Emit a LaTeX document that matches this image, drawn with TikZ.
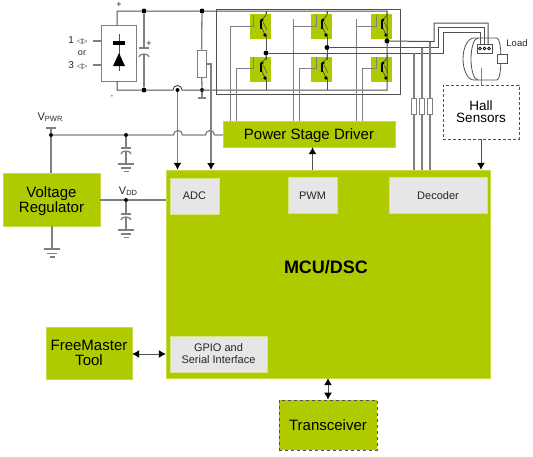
\documentclass[tikz,border=0pt]{standalone}
\usepackage{fontspec}
\setmainfont{Liberation Sans}
\newfontfamily\symfont{DejaVu Sans}
\usetikzlibrary{arrows.meta}
\definecolor{mcugreen}{HTML}{B0CA00}
\definecolor{blockgray}{HTML}{E6E6E6}
\definecolor{wiregray}{HTML}{808080}
\definecolor{darkwire}{HTML}{505050}
\newcommand{\fs}[1]{\fontsize{#1}{#1}\selectfont}
\tikzset{
  wire/.style={draw=wiregray,line width=1.3pt},
  rail/.style={draw=darkwire,line width=1pt},
  sig/.style={draw=darkwire,line width=1pt,-{Latex[length=7pt,width=8pt,black]}},
  bisig/.style={draw=darkwire,line width=1pt,{Latex[length=7pt,width=8pt,black]}-{Latex[length=7pt,width=8pt,black]}},
  greenbox/.style={fill=mcugreen,draw=mcugreen!70!white,line width=0.4pt,inner sep=0pt,align=center,text=black,font=\fs{15},text depth=0pt},
  graybox/.style={fill=blockgray,draw=mcugreen!50!white,line width=0.4pt,inner sep=0pt,align=center,text=black!85,font=\fs{11}},
  dot/.style={circle,fill=black,inner sep=0pt,minimum size=5pt},
  part/.style={draw=darkwire,line width=0.8pt,fill=white,inner sep=0pt,minimum width=#1},
  label/.style={inner sep=0pt,text=black!85,align=center}
}
% capacitor with ground below: x, y of the plate
\newcommand{\capgnd}[2]{
  \draw[wire] (#1-5,#2) -- (#1+5,#2);
  \draw[wire] (#1-5,#2+6) arc (180:360:5 and 3);
  \draw[wire] (#1,#2+3) -- (#1,#2+16);
  \draw[wire] (#1-8,#2+16) -- (#1+8,#2+16);
  \draw[wire] (#1-5,#2+20) -- (#1+5,#2+20);
  \draw[wire] (#1-2.5,#2+23.5) -- (#1+2.5,#2+23.5);
}
% switch symbol: x of the leg, y of the top of the square
\newcommand{\igbt}[3]{
  \node[fill=mcugreen,inner sep=0pt,minimum width=21pt,minimum height=25pt] (#1) at (#2-5.5,#3+12.5) {};
  \draw[darkwire,line width=0.8pt] (#2,#3-3) -- (#2,#3+1) -- (#2-5,#3+7);
  \draw[darkwire,line width=0.8pt] (#2-5,#3+12) -- (#2-1,#3+21);
  \draw[darkwire,line width=0.5pt] (#2-3,#3+8) -- (#2+1,#3+16);
  \draw[black,line width=1.6pt] (#2-5,#3+6) -- (#2-5,#3+15);
  \fill[black] (#2-1,#3+21) circle (1.8pt);
  \fill[black] (#2-4,#3+6) circle (1.6pt);
}
\begin{document}
\begin{tikzpicture}[x=1pt,y=-1pt]
  \useasboundingbox (0,0) rectangle (533,456);

  % switches
  \foreach \n/\x in {a/266,b/327,c/387} {
    \igbt{hi\n}{\x}{14}
    \igbt{lo\n}{\x}{57}
  }

  % blocks
  \node[greenbox,minimum width=97pt,minimum height=53pt] (reg) at (51.5,199.5) {Voltage\\[-0.5pt]Regulator};
  \node[greenbox,minimum width=324pt,minimum height=208pt] (mcu) at (328,274) {};
  \node[greenbox,minimum width=172pt,minimum height=26pt] (drv) at (309,134) {Power Stage Driver};
  \node[greenbox,minimum width=86pt,minimum height=52pt] (fmt) at (89,353) {FreeMaster\\[-0.5pt]Tool};
  \node[greenbox,dashed,draw=darkwire,line width=0.8pt,minimum width=98pt,minimum height=50pt] (trx) at (328,425) {Transceiver};
  \node[graybox,minimum width=49pt,minimum height=36pt] (adc) at (194.5,196) {ADC};
  \node[graybox,minimum width=49pt,minimum height=36pt] (pwm) at (312.5,195.5) {PWM};
  \node[graybox,minimum width=98pt,minimum height=36pt] (dec) at (438,195.5) {Decoder};
  \node[graybox,minimum width=97pt,minimum height=36pt] (gpio) at (218.5,354) {GPIO and\\[1pt]Serial Interface};
  \node[inner sep=0pt,font=\fs{18}\bfseries] (title) at (326,267) {MCU/DSC};
  \node[draw=darkwire,densely dashed,line width=0.8pt,inner sep=0pt,align=center,minimum width=76pt,minimum height=54pt,font=\fs{13.5}] (hall) at (481,112) {Hall\\[-1.5pt]Sensors};

  % rectifier and input
  \node[part=35pt,minimum height=56pt,draw=wiregray,line width=1pt] (rect) at (118.5,53) {};
  \draw[darkwire,line width=0.7pt] (119,34) -- (119,71);
  \fill[black] (113,41) rectangle (125,45);
  \fill[black] (113,66) -- (125,66) -- (119,53) -- cycle;
  \node[label,font=\fs{10}] (inone) at (78,40) {1 {\symfont\fs{7}◁▷}};
  \node[label,font=\fs{9}] (inor) at (82,53) {or};
  \node[label,font=\fs{10}] (inthree) at (78,65) {3 {\symfont\fs{7}◁▷}};
  \coordinate (stuba) at (93,41);
  \coordinate (stubb) at (93,65);
  \draw[wire] (stuba) -- (stuba -| rect.west);
  \draw[wire] (stubb) -- (stubb -| rect.west);
  \node[label,font=\fs{9}] (plus) at (119,5) {+};
  \node[label,font=\fs{8}] (minus) at (112,97) {-};
  \node[label,font=\fs{9}] (capplus) at (149,44) {+};

  % dc rails and bridge frame
  \node[dot] (topa) at (144,11) {};
  \node[dot] (topb) at (202,11) {};
  \node[dot] (bota) at (144,90) {};
  \node[dot,minimum size=4pt] (botb) at (202,90) {};
  \node[dot,minimum size=4pt] (shunt) at (177.5,90) {};
  \draw[rail] (117,25) -- (117,11) -- (topa) -- (topb) -- (387,11) -- (387,90) -- (182,90) arc (360:180:4.5) -- (bota) -- (117,90) -- (117,81);
  \draw[rail] (216,9) rectangle (400,94);
  \draw[wire] (topa) -- (144,48);
  \draw[wire] (139,48) -- (149,48);
  \draw[wire] (139,57) arc (180:360:5 and 3);
  \draw[wire] (144,54) -- (bota);

  % shunt
  \node[part=9pt,minimum height=27pt,draw=wiregray] (res) at (201.5,63.5) {};
  \draw[wire] (topb) -- (res);
  \draw[wire] (res) -- (botb);
  \draw[wire] (botb) -- (202,98);
  \draw[wire] (198,98) -- (206,98);
  \draw[sig,draw=wiregray,line width=1.3pt] (shunt) -- (shunt |- mcu.north);
  \draw[sig,draw=wiregray,line width=1.3pt] (206,64) -- (211,64) -- (211,170);

  % legs
  \node[dot] (pha) at (266,53) {};
  \node[dot] (phb) at (327,47.5) {};
  \node[dot] (phc) at (387,41) {};
  \draw[rail] (266,11) -- (266,14);
  \draw[rail] (327,11) -- (327,14);
  \draw[rail] (266,35) -- (pha) -- (266,60);
  \draw[rail] (327,35) -- (phb) -- (327,60);
  \draw[rail] (266,78) -- (266,90);
  \draw[rail] (327,78) -- (327,90);

  % gates
  \foreach \x/\y/\u/\tx in {230/26/26/253,293/26/19/316,356/26/19/376,236/68/68/253,299/68/68/316,362/68/68/376} {
    \draw[wire,line width=1pt] (\x,\u) -- (\x,121);
    \draw[wire,line width=1pt] (\x,\y) -- (\tx,\y) -- (\tx,\y-11);
  }

  % motor
  \draw[darkwire,line width=0.8pt] (474,38) -- (497,38) arc (-90:90:4 and 21) -- (474,80) arc (90:270:11 and 21);
  \draw[darkwire,line width=0.8pt] (478,80) arc (90:270:7 and 21);
  \node[part=10pt,minimum height=9pt] (shaft) at (502,59) {};
  \node[part=15pt,minimum height=9pt] (conn) at (484.5,48.5) {};
  \foreach \x in {480,484.5,489} \draw[black,line width=0.6pt] (\x,48.5) circle (1.4pt);
  \node[label,font=\fs{9.5}] (load) at (517,43) {Load};
  \draw[wire,line width=0.9pt] (481,68) -- (hall.north -| 481,0);

  % phases to motor and sense resistors
  \draw[rail] (phc) -- (430,41.5) -- (434,41.5) -- (434,23) -- (488,23) -- (488,44);
  \draw[rail] (phb) -- (438,47.5) -- (438,27) -- (484,27) -- (484,44);
  \draw[rail] (pha) -- (443,53) -- (443,32) -- (480,32) -- (480,44);
  \foreach \x/\y/\n in {414/53/a,422/47.5/b,430/41.5/c} {
    \draw[wire] (\x,\y) -- (\x,170);
    \node[part=5pt,minimum height=16pt,draw=wiregray] (sen\n) at (\x,106) {};
  }

  % supply
  \node[label,font=\fs{11}] (vpwr) at (50,117) {V\raisebox{-1pt}{\fs{7.5}PWR}};
  \node[label,font=\fs{11}] (vdd) at (128,191) {V\raisebox{-1pt}{\fs{7.5}DD}};
  \node[dot,minimum size=4pt] (vpa) at (51,135) {};
  \node[dot,minimum size=4pt] (vpb) at (126,135) {};
  \node[dot,minimum size=4pt] (vda) at (126,200) {};
  \draw[wire] (46,128) -- (56,128);
  \draw[wire] (51,128) -- (vpa) -- (vpa |- reg.north);
  \draw[wire] (vpa) -- (vpb) -- (173.5,135) arc (180:360:4.5) -- (205.5,135) arc (180:360:4.5) -- (drv.west |- 0,135);
  \draw[wire] (reg.east |- vda) -- (vda) -- (mcu.west |- vda);
  \draw[wire] (vpb) -- (126,148);
  \draw[wire] (vda) -- (126,214);
  \capgnd{126}{148}
  \capgnd{126}{214}
  \draw[wire] (52,226) -- (52,249);
  \draw[wire] (44,249) -- (60,249);
  \draw[wire] (47,253.5) -- (57,253.5);
  \draw[wire] (49.5,257) -- (54.5,257);

  % signals
  \draw[sig] (pwm.north |- mcu.north) -- (pwm.north |- drv.south);
  \draw[sig] (hall.south) -- (hall.south |- mcu.north);
  \draw[bisig] (fmt.east |- gpio) -- (mcu.west |- gpio);
  \draw[bisig] (mcu.south) -- (trx.north);
\end{tikzpicture}
\end{document}
